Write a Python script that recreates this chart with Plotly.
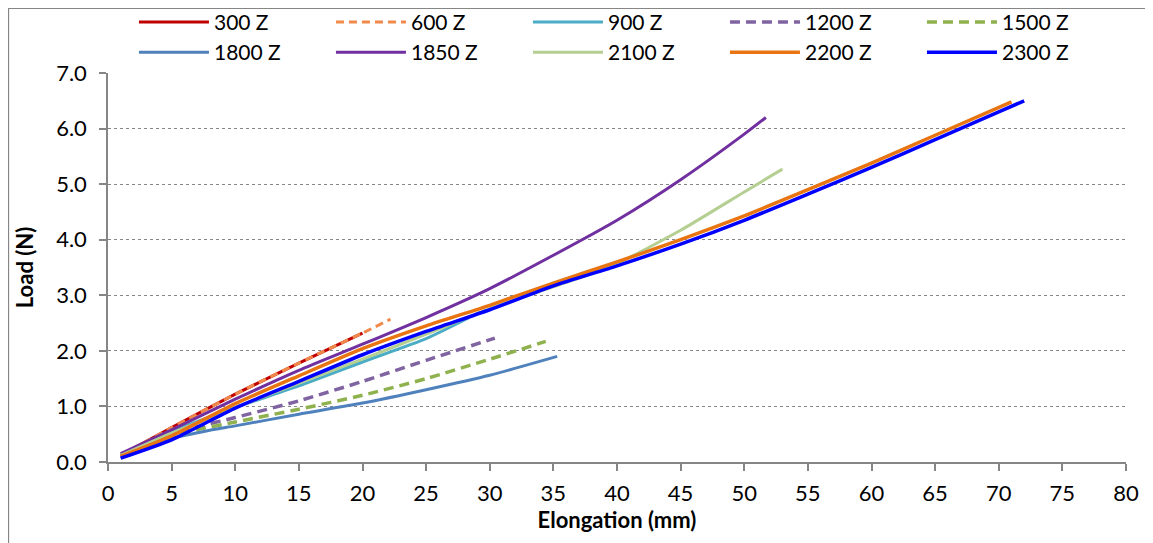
import plotly.graph_objects as go

# ---- data ----
x_300 = [1, 5, 10, 15, 20]
y_300 = [0.12, 0.62, 1.22, 1.78, 2.32]

x_600 = [1, 5, 10, 15, 20, 22.2]
y_600 = [0.12, 0.62, 1.22, 1.78, 2.32, 2.57]

x_900 = [1, 5, 10, 15, 20, 25, 28.4]
y_900 = [0.12, 0.55, 0.98, 1.37, 1.8, 2.22, 2.6]

x_1200 = [1, 4, 7, 10, 15, 20, 25, 30.4]
y_1200 = [0.1, 0.4, 0.63, 0.8, 1.1, 1.45, 1.83, 2.23]

x_1500 = [1, 4, 7, 10, 15, 20, 25, 30, 34.4]
y_1500 = [0.1, 0.38, 0.58, 0.72, 0.95, 1.2, 1.5, 1.85, 2.17]

x_1800 = [1, 5, 8, 10, 15, 20, 25, 30, 35.3]
y_1800 = [0.07, 0.42, 0.57, 0.65, 0.86, 1.06, 1.3, 1.56, 1.9]

x_1850 = [1, 5, 10, 15, 20, 25, 30, 35, 40, 45, 50, 51.7]
y_1850 = [0.15, 0.58, 1.13, 1.65, 2.12, 2.6, 3.12, 3.72, 4.35, 5.08, 5.9, 6.2]

x_2100 = [1, 5, 10, 15, 20, 25, 30, 37, 40, 45, 50, 53]
y_2100 = [0.12, 0.52, 0.98, 1.42, 1.85, 2.3, 2.76, 3.31, 3.57, 4.17, 4.86, 5.27]

x_2200 = [1, 5, 10, 15, 20, 25, 30, 35, 40, 45, 50, 55, 60, 65, 71]
y_2200 = [0.1, 0.47, 1.05, 1.55, 2.04, 2.45, 2.82, 3.22, 3.6, 4.0, 4.43, 4.9, 5.38, 5.88, 6.48]

x_2300 = [1, 5, 10, 15, 20, 25, 30, 35, 40, 45, 50, 55, 60, 65, 70, 72]
y_2300 = [0.07, 0.4, 0.97, 1.45, 1.93, 2.35, 2.74, 3.17, 3.53, 3.92, 4.35, 4.82, 5.3, 5.8, 6.3, 6.5]

series_names = ["300 Z", "600 Z", "900 Z", "1200 Z", "1500 Z",
                "1800 Z", "1850 Z", "2100 Z", "2200 Z", "2300 Z"]
x_ticks = list(range(0, 85, 5))
y_ticks = [0, 1, 2, 3, 4, 5, 6, 7]

# ---- styles ----
styles = [
    dict(color="#C00000", width=3, dash="solid"),
    dict(color="#F0894A", width=3, dash="8px,5px"),
    dict(color="#4BACC6", width=3, dash="solid"),
    dict(color="#8064A2", width=3.5, dash="10px,6px"),
    dict(color="#8FB24F", width=3.5, dash="10px,6px"),
    dict(color="#4F81BD", width=3, dash="solid"),
    dict(color="#7030A0", width=3, dash="solid"),
    dict(color="#B5CF92", width=3, dash="solid"),
    dict(color="#E87511", width=3.5, dash="solid"),
    dict(color="#0000FF", width=3.5, dash="solid"),
]
xs = [x_300, x_600, x_900, x_1200, x_1500, x_1800, x_1850, x_2100, x_2200, x_2300]
ys = [y_300, y_600, y_900, y_1200, y_1500, y_1800, y_1850, y_2100, y_2200, y_2300]

FONT = "Lato, 'Open Sans', sans-serif"
FS = 22

fig = go.Figure()
for name, x, y, st in zip(series_names, xs, ys, styles):
    fig.add_trace(go.Scatter(x=x, y=y, name=name, mode="lines",
                             line=dict(color=st["color"], width=st["width"],
                                       dash=st["dash"], shape="spline", smoothing=0.6)))

axis_col = "#868686"
# page body has an 8px margin, so the figure is sized/positioned to compensate
fig.update_layout(
    width=1145, height=535,
    margin=dict(l=100, r=27, t=65, b=81, autoexpand=False),
    paper_bgcolor="white", plot_bgcolor="white",
    font=dict(family=FONT, size=FS, color="black"),
    showlegend=True,
    legend=dict(orientation="h", x=0.0255, y=1.183, xanchor="left", yanchor="top",
                entrywidth=112, entrywidthmode="pixels", itemwidth=70,
                font=dict(family=FONT, size=21, color="black"),
                bgcolor="rgba(0,0,0,0)", tracegroupgap=0, traceorder="normal"),
    xaxis=dict(range=[0, 80], tickvals=x_ticks, ticktext=[str(v) for v in x_ticks],
               showline=True, linecolor=axis_col, linewidth=1.5,
               ticks="outside", ticklen=7, tickcolor=axis_col, tickwidth=1.5,
               ticklabelstandoff=4,
               showgrid=False, zeroline=False,
               title=dict(text="<b>Elongation (mm)</b>", font=dict(size=FS, family=FONT), standoff=6),
               tickfont=dict(size=FS, family=FONT)),
    yaxis=dict(range=[0, 7], tickvals=y_ticks, ticktext=[f"{v:.1f}" for v in y_ticks],
               showline=True, linecolor=axis_col, linewidth=1.5,
               ticks="outside", ticklen=7, tickcolor=axis_col, tickwidth=1.5,
               ticklabelstandoff=8,
               showgrid=True, gridcolor=axis_col, gridwidth=1.3, griddash="dot",
               zeroline=False,
               title=dict(text="<b>Load (N)</b>", font=dict(size=FS, family=FONT), standoff=16),
               tickfont=dict(size=FS, family=FONT)),
)

# outer chart border (left and top edges visible in the reference)
fig.add_shape(type="rect", xref="paper", yref="paper",
              x0=-0.0977, x1=1.2, y0=-0.4, y1=1.1658,
              line=dict(color=axis_col, width=1.2), fillcolor="rgba(0,0,0,0)", layer="below")

fig.write_html("out.html")
